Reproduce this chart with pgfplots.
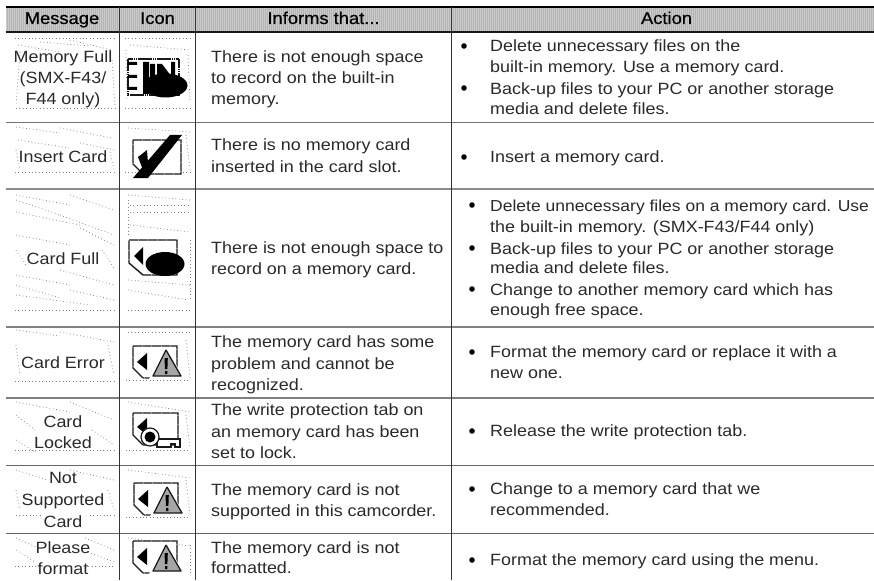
\documentclass[border=0pt]{standalone}
\usepackage{pgfplots}
\pgfplotsset{compat=1.18}
\usepackage{fontspec}
\setmainfont{Liberation Sans}[FakeStretch=1.1]
\newfontfamily\hdf{Liberation Sans}[FakeStretch=1.08,FakeBold=0.6]
\definecolor{tx}{HTML}{2A2A2A}
\definecolor{hd}{HTML}{B4B4B4}
\newcommand{\T}[3]{\node[anchor=base west,inner sep=0pt,text=tx] at (axis cs:#1,#2) {#3};}
\newcommand{\C}[3]{\node[anchor=base,inner sep=0pt,text=tx] at (axis cs:#1,#2) {#3};}
\newcommand{\Hd}[3]{\node[anchor=base,inner sep=0pt,text=black,font=\hdf\fontsize{17}{20}\selectfont] at (axis cs:#1,#2) {#3};}
\newcommand{\B}[2]{\fill[black] (axis cs:#1,#2) circle[radius=2.8pt];}
\newcommand{\Hr}[3]{\addplot[color=#2,line width=#3pt] coordinates {(6,#1)(874,#1)};}
\newcommand{\Vr}[1]{\addplot[color=black!80,line width=1pt] coordinates {(#1,7)(#1,580)};}
\newcommand{\N}[4]{\addplot[color=black!50,line width=.7pt,dash pattern=on .8pt off 2.6pt] coordinates {(#1,#2)(#3,#4)};}
\tikzset{cardline/.style={fill=white,draw=black!90,line width=1.4pt,dash pattern=on 1.6pt off .3pt}}
\newcommand{\Warn}[2]{%
  \addplot[xshift=#1pt,yshift=-#2pt,cardline] coordinates {(133,346)(177,346)(177,378)(143,378)(133,368)(133,346)};
  \addplot[xshift=#1pt,yshift=-#2pt,fill=black,draw=none] coordinates {(137,362)(147,353)(147,370)(137,362)};
  \addplot[xshift=#1pt,yshift=-#2pt,fill=white,draw=white,line width=2.5pt] coordinates {(166,349)(182,378)(151,378)(166,349)};
  \addplot[xshift=#1pt,yshift=-#2pt,fill=black!35,draw=black!90,line width=1.3pt,line join=round] coordinates {(166,350)(181,376)(153,376)(166,350)};
  \addplot[xshift=#1pt,yshift=-#2pt,fill=black,draw=none] coordinates {(164.5,358)(167.8,358)(167.4,369)(165,369)(164.5,358)};
  \addplot[xshift=#1pt,yshift=-#2pt,fill=black,draw=none] coordinates {(165,371)(167.4,371)(167.4,374)(165,374)(165,371)};
}
\begin{document}
\begin{tikzpicture}
\begin{axis}[hide axis,scale only axis,width=874pt,height=580pt,
  xmin=0,xmax=874,ymin=0,ymax=580,y dir=reverse,clip=true,
  every axis plot/.append style={forget plot,mark=none},
  execute at begin axis={\fontsize{16.3}{19}\selectfont}]
% background
\addplot[fill=white,draw=none] coordinates {(0,0)(874,0)(874,580)(0,580)(0,0)};
% header band
\addplot[fill=hd,draw=none] coordinates {(6,7)(874,7)(874,32)(6,32)(6,7)};
\pgfplotsinvokeforeach{6,8,...,874}{\addplot[color=white,opacity=.3,line width=.8pt] coordinates {(#1,8)(#1,31)};}
% dotted speckle, message column
\N{15}{38}{115}{38}\N{18}{45}{60}{52}\N{70}{40}{112}{50}\N{16}{108}{115}{108}\N{20}{52}{16}{105}\N{112}{60}{115}{105}\N{40}{42}{90}{46}
\N{16}{127}{60}{133}\N{60}{128}{112}{138}\N{18}{140}{70}{148}\N{80}{143}{115}{150}\N{15}{172}{115}{172}\N{16}{150}{20}{170}\N{110}{152}{114}{170}
\N{16}{195}{70}{205}\N{70}{195}{114}{210}\N{16}{212}{80}{225}\N{60}{215}{114}{235}\N{16}{235}{70}{245}\N{16}{200}{60}{215}\N{80}{228}{114}{245}\N{16}{250}{26}{265}\N{102}{250}{114}{268}
\N{16}{275}{70}{285}\N{60}{270}{114}{285}\N{16}{295}{90}{305}\N{70}{290}{114}{300}\N{15}{310}{115}{310}\N{16}{285}{60}{298}
\N{16}{330}{60}{336}\N{60}{332}{114}{342}\N{15}{381}{115}{381}\N{16}{345}{20}{375}\N{108}{345}{114}{375}
\N{16}{402}{70}{412}\N{70}{402}{114}{420}\N{16}{440}{35}{452}\N{15}{450}{115}{450}\N{16}{415}{35}{430}\N{92}{430}{114}{445}
\N{16}{470}{48}{480}\N{70}{470}{114}{480}\N{16}{515}{40}{515}\N{90}{515}{115}{515}\N{16}{490}{20}{510}\N{108}{490}{114}{510}
\N{16}{538}{38}{548}\N{85}{538}{114}{550}\N{15}{566}{38}{566}\N{85}{566}{115}{566}\N{16}{550}{35}{562}\N{88}{552}{114}{562}
% speckle, icon column
\N{125}{38}{190}{38}\N{130}{45}{190}{50}\N{125}{108}{190}{108}\N{188}{55}{190}{100}\N{126}{50}{127}{100}
\N{128}{128}{190}{132}\N{125}{172}{190}{172}\N{186}{135}{190}{170}
\N{128}{195}{190}{200}\N{130}{205}{190}{205}\N{130}{212}{190}{212}\N{130}{225}{190}{232}\N{128}{290}{188}{300}\N{128}{310}{190}{310}\N{190}{240}{190}{300}\N{128}{200}{128}{235}\N{128}{280}{190}{285}
\N{128}{332}{190}{332}\N{126}{380}{190}{380}\N{186}{340}{190}{378}
\N{128}{402}{190}{412}\N{126}{450}{190}{450}\N{186}{415}{190}{448}
\N{128}{470}{190}{478}\N{126}{517}{190}{517}\N{186}{480}{190}{515}
\N{128}{538}{190}{546}\N{190}{545}{190}{575}
% rules
\Hr{123}{black!55}{1}
\Hr{189}{black!45}{1.6}
\Hr{327}{black!50}{1.4}
\Hr{398}{black!50}{1.6}
\Hr{465}{black!60}{1}
\Hr{533}{black!60}{1}
\Hr{7}{black}{2}
\Hr{32}{black!90}{2}
\Vr{119.5}
\Vr{195.5}
\Vr{451.5}
% header text
\Hd{62}{24}{Message}
\Hd{157.5}{24}{Icon}
\Hd{323.5}{24}{Informs that...}
\Hd{666.5}{24}{Action}
% message column
\C{63}{63}{Memory Full}\C{63}{84}{(SMX-F43/}\C{63}{105}{F44 only)}
\C{63}{163}{Insert Card}
\C{63}{264}{Card Full}
\C{63}{368}{Card Error}
\C{63}{427}{Card}\C{63}{448}{Locked}
\C{63}{483}{Not}\C{63}{505}{Supported}\C{63}{527}{Card}
\C{63}{553}{Please}\C{63}{574}{format}
% informs column
\T{211}{63}{There is not enough space}\T{211}{84}{to record on the built-in}\T{211}{105}{memory.}
\T{211}{151}{There is no memory card}\T{211}{172}{inserted in the card slot.}
\T{211}{253}{There is not enough space to}\T{211}{274}{record on a memory card.}
\T{211}{347}{The memory card has some}\T{211}{369}{problem and cannot be}\T{211}{390}{recognized.}
\T{211}{415}{The write protection tab on}\T{211}{437}{an memory card has been}\T{211}{458}{set to lock.}
\T{211}{495}{The memory card is not}\T{211}{516}{supported in this camcorder.}
\T{211}{553}{The memory card is not}\T{211}{573}{formatted.}
% action column
\B{464}{46}\T{490}{52}{Delete unnecessary files on the}\T{490}{73}{built-in memory. Use a memory card.}
\B{464}{88}\T{490}{95}{Back-up files to your PC or another storage}\T{490}{115}{media and delete files.}
\B{464}{157}\T{490}{162}{Insert a memory card.}
\B{472}{205}\T{490}{211}{\fontsize{15.9}{19}\selectfont Delete unnecessary files on a memory card. Use}\T{490}{232}{the built-in memory. (SMX-F43/F44 only)}
\B{472}{248}\T{490}{254}{Back-up files to your PC or another storage}\T{490}{273}{media and delete files.}
\B{472}{289}\T{490}{295}{Change to another memory card which has}\T{490}{315}{enough free space.}
\B{472}{352}\T{490}{357}{Format the memory card or replace it with a}\T{490}{378}{new one.}
\B{472}{431}\T{490}{436}{Release the write protection tab.}
\B{472}{489}\T{490}{494}{Change to a memory card that we}\T{490}{515}{recommended.}
\B{472}{560}\T{490}{565}{Format the memory card using the menu.}
% icon 1
\addplot[cardline] coordinates {(128,59)(179,59)(179,95)(128,95)(128,59)};
\addplot[fill=black,draw=none] coordinates {(128,62)(137,62)(137,65)(128,65)(128,62)};
\addplot[fill=black,draw=none] coordinates {(128,75)(137,75)(137,78)(128,78)(128,75)};
\addplot[fill=black,draw=none] coordinates {(128,87)(137,87)(137,90)(128,90)(128,87)};
\addplot[fill=black,draw=none] coordinates {(143,62)(149,62)(149,94)(143,94)(143,62)};
\addplot[fill=black,draw=none] coordinates {(150,64)(155,64)(155,78)(150,78)(150,64)};
\addplot[fill=black,draw=none] coordinates {(157,64)(162,64)(171,76)(171,62)(175,62)(175,85)(157,85)(157,64)};
\fill[black] (axis cs:165.5,85.5) ellipse[x radius=22pt,y radius=12pt];
% icon 2
\addplot[cardline] coordinates {(133,140)(181,140)(181,174)(143,174)(133,164)(133,140)};
\addplot[fill=black,draw=none] coordinates {(133,178)(148,178)(182,135)(170,135)(133,178)};
\addplot[fill=black,draw=none] coordinates {(138,157)(147,150)(148,163)(143,170)(138,157)};
% icon 3
\addplot[cardline] coordinates {(129,240)(177,240)(177,275)(143,275)(129,263)(129,240)};
\addplot[fill=black,draw=none] coordinates {(134,256)(143,247)(143,265)(134,256)};
\fill[black] (axis cs:165,264) ellipse[x radius=19.5pt,y radius=12pt];
% warning icons
\Warn{0}{0}
\Warn{1}{137}
\Warn{0}{195}
% lock icon
\addplot[cardline] coordinates {(133,413)(178,413)(178,445)(143,445)(133,435)(133,413)};
\addplot[fill=black,draw=none] coordinates {(137,427)(147,418)(147,435)(137,427)};
\addplot[fill=white,draw=black!90,line width=1.2pt] coordinates {(157,439)(180,439)(180,447)(175,447)(175,444)(171,444)(171,447)(157,447)(157,439)};
\draw[fill=white,draw=black!90,line width=1.2pt] (axis cs:150,437) circle[radius=9pt];
\fill[black] (axis cs:150,437) circle[radius=5.5pt];
\end{axis}
\end{tikzpicture}
\end{document}
